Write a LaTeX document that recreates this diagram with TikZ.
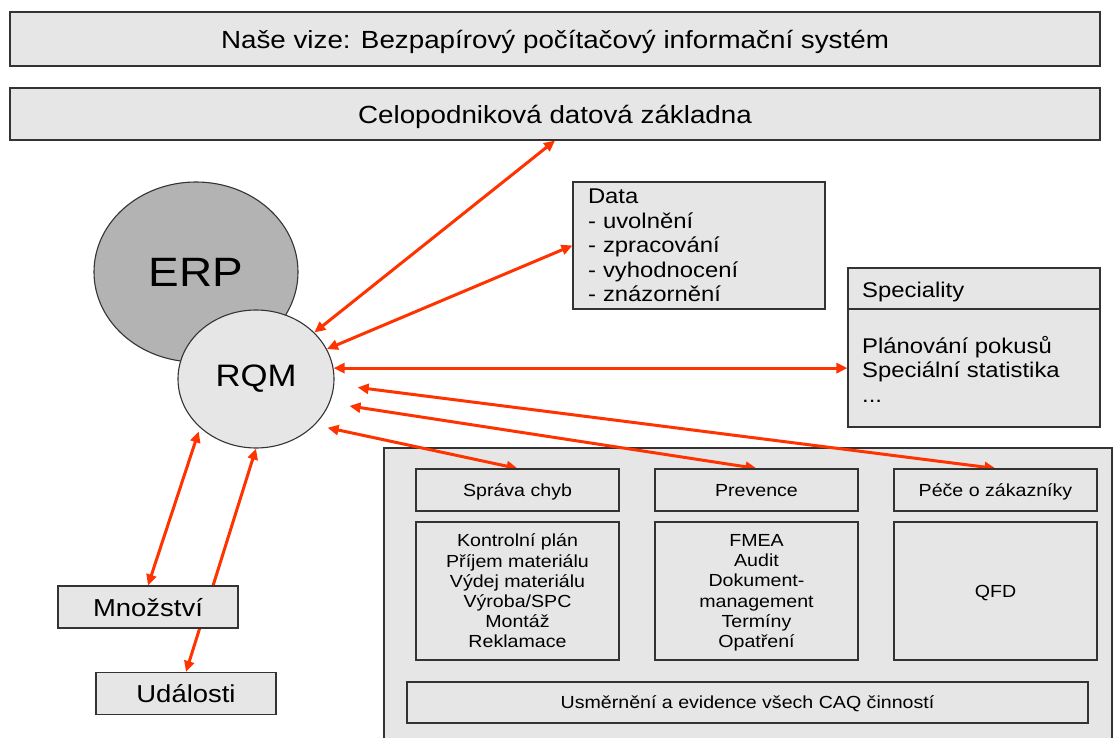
\documentclass[tikz,border=0pt]{standalone}
\usepackage{fontspec}
\setmainfont{Liberation Sans}[FakeStretch=1.12]
\usetikzlibrary{arrows.meta,calc,shapes.geometric}
\pgfdeclarelayer{bg}\pgfdeclarelayer{mid}\pgfsetlayers{bg,mid,main}
\definecolor{boxgray}{HTML}{E6E6E6}
\definecolor{erpgray}{HTML}{B3B3B3}
\definecolor{arrred}{HTML}{FF3300}
\definecolor{edgegray}{HTML}{333333}
\begin{document}
\begin{tikzpicture}[x=1pt,y=-1pt,
  box/.style={rectangle, draw=edgegray, line width=1.1pt, fill=boxgray, inner sep=0pt},
  lowtxt/.style={text depth=0pt},
  ell/.style={ellipse, draw=edgegray, line width=1.1pt, inner sep=0pt},
  arr/.style={draw=arrred, line width=3pt, {Triangle[length=11pt,width=10pt]}-{Triangle[length=11pt,width=10pt]}},
  bigtxt/.style={font=\fontsize{24.8}{28.5}\selectfont},
  midtxt/.style={font=\fontsize{21.3}{24.5}\selectfont},
  smalltxt/.style={font=\fontsize{17.5}{20.2}\selectfont},
  plain/.style={inner sep=0pt, text depth=0pt}]
\useasboundingbox (0,0) rectangle (1114,738);

\begin{pgfonlayer}{bg}
\node[box, minimum width=728pt, minimum height=300pt] (caq) at (748,598) {};
\end{pgfonlayer}

\node[box, lowtxt, bigtxt, minimum width=1090pt, minimum height=54pt] (vize) at (555,39) {Naše vize: Bezpapírový počítačový informační systém};
\node[box, lowtxt, bigtxt, minimum width=1090pt, minimum height=52pt] (db) at (555,114) {Celopodniková datová základna};

\node[ell, fill=erpgray, minimum width=204pt, minimum height=180pt, font=\fontsize{41}{45}\selectfont] (erp) at (196,272) {ERP};
\node[ell, fill=boxgray, minimum width=156pt, minimum height=138pt, font=\fontsize{31}{35}\selectfont] (rqm) at (256,379) {RQM};

\node[box, midtxt, minimum width=252pt, minimum height=127pt, text width=222pt, align=left] (data) at (699,245.5) {Data\\- uvolnění\\- zpracování\\- vyhodnocení\\- znázornění};

\node[box, minimum width=252pt, minimum height=159pt] (spec) at (974,347.5) {};
\draw[edgegray, line width=1.1pt] (spec.west |- 0,309) -- (spec.east |- 0,309);
\node[plain, midtxt, anchor=west] (spechead) at (862,289.5) {Speciality};
\node[plain, midtxt, anchor=west, align=left] (specbody) at (862,369) {Plánování pokusů\\Speciální statistika\\...};

\node[box, lowtxt, smalltxt, minimum width=203pt, minimum height=42pt] (spr) at (517.5,490) {Správa chyb};
\node[box, lowtxt, smalltxt, minimum width=203pt, minimum height=42pt] (prev) at (756.5,490) {Prevence};
\node[box, lowtxt, smalltxt, minimum width=203pt, minimum height=42pt] (pece) at (995.5,490) {Péče o zákazníky};
\node[box, lowtxt, smalltxt, minimum width=203pt, minimum height=138pt, align=center] (sprlist) at (517.5,591) {Kontrolní plán\\Příjem materiálu\\Výdej materiálu\\Výroba/SPC\\Montáž\\Reklamace};
\node[box, lowtxt, smalltxt, minimum width=203pt, minimum height=138pt, align=center] (prevlist) at (756.5,591) {FMEA\\Audit\\Dokument-\\management\\Termíny\\Opatření};
\node[box, lowtxt, smalltxt, minimum width=203pt, minimum height=138pt] (qfd) at (995.5,591) {QFD};
\node[box, lowtxt, smalltxt, minimum width=681pt, minimum height=41pt] (usm) at (747.5,702.5) {Usměrnění a evidence všech CAQ činností};

\node[box, lowtxt, font=\fontsize{24.5}{28}\selectfont, minimum width=180pt, minimum height=42pt] (mn) at (148,607) {Množství};
\node[box, lowtxt, font=\fontsize{24.5}{28}\selectfont, minimum width=180pt, minimum height=42pt] (ud) at (186,693.5) {Události};

\begin{pgfonlayer}{mid}
\draw[arr] (db.south) -- (rqm);
\draw[arr] (data.west) -- (rqm);
\draw[arr] (rqm.8) -- (rqm.8 -| spec.west);
\draw[arr, shorten >=23.5pt] (pece.north) -- (rqm.-4);
\draw[arr, shorten >=20pt] (prev.north) -- (rqm.-18);
\draw[arr, shorten >=13pt] (spr.north) -- (rqm.-38.5);
\draw[arr, shorten >=4pt] (mn.north) -- (rqm.221);
\draw[arr] (ud.north) -- (rqm.south);
\end{pgfonlayer}
\end{tikzpicture}
\end{document}
